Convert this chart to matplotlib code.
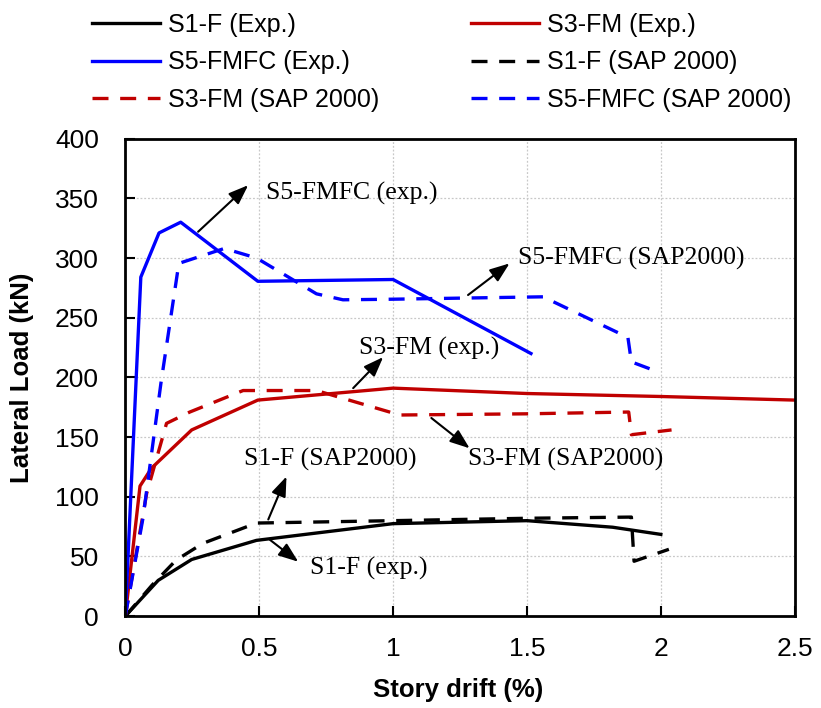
import matplotlib
matplotlib.use("Agg")
import matplotlib.pyplot as plt

sans = ['Liberation Sans', 'DejaVu Sans']
serif = ['Liberation Serif', 'DejaVu Serif']
plt.rcParams['font.family'] = sans

# ---- data ----
s1_exp_x = [0, 0.123, 0.248, 0.49, 1.0, 1.5, 1.82, 2.0]
s1_exp_y = [0, 30, 47.5, 63.5, 77.5, 80, 74.5, 68.5]
s3_exp_x = [0, 0.055, 0.098, 0.248, 0.495, 1.0, 1.5, 2.0, 2.5]
s3_exp_y = [0, 109, 124, 156, 181, 191, 186.5, 184, 181]
s5_exp_x = [0, 0.058, 0.126, 0.207, 0.495, 1.0, 1.515]
s5_exp_y = [0, 284, 321, 330, 280.5, 282, 220]
s1_sap_x = [0, 0.1, 0.19, 0.29, 0.49, 1.0, 1.5, 1.89, 1.9, 2.03]
s1_sap_y = [0, 26, 47, 61, 78, 80, 82, 83, 46, 56]
s3_sap_x = [0, 0.08, 0.154, 0.241, 0.44, 0.714, 1.025, 1.5, 1.88, 1.89, 2.04]
s3_sap_y = [0, 103, 161.5, 171, 189, 189, 168.5, 169.5, 171, 152, 156]
s5_sap_x = [0, 0.066, 0.133, 0.2, 0.37, 0.49, 0.714, 0.813, 1.0, 1.56, 1.877, 1.89, 1.985]
s5_sap_y = [0, 82, 195, 295.5, 308, 300, 270, 265, 265.5, 267.5, 233.5, 213, 205]

labels = ['S1-F (Exp.)', 'S3-FM (Exp.)', 'S5-FMFC (Exp.)',
          'S1-F (SAP 2000)', 'S3-FM (SAP 2000)', 'S5-FMFC (SAP 2000)']

x_ticks = [0, 0.5, 1, 1.5, 2, 2.5]
x_ticklabels = ['0', '0.5', '1', '1.5', '2', '2.5']
y_ticks = [0, 50, 100, 150, 200, 250, 300, 350, 400]

# annotation: text, text pos, arrow start, arrow tip
annots = [
    ('S5-FMFC (exp.)', (0.524, 354), (0.272, 322), (0.459, 361)),
    ('S5-FMFC (SAP2000)', (1.467, 300), (1.28, 269), (1.435, 295.5)),
    ('S3-FM (exp.)', (0.873, 224), (0.851, 191), (0.963, 217)),
    ('S3-FM (SAP2000)', (1.28, 131), (1.143, 166), (1.286, 140.6)),
    ('S1-F (SAP2000)', (0.443, 131), (0.534, 81), (0.602, 117)),
    ('S1-F (exp.)', (0.689, 40), (0.54, 64), (0.646, 45.6)),
]

BLACK = '#000000'
RED = '#C00000'
BLUE = '#0000FF'

fig = plt.figure(figsize=(8.21, 7.08), dpi=100)
ax = fig.add_axes([0.1526, 0.1297, 0.8154, 0.6745])

lw = 2.4
dash = (0, (4.8, 3.5))
h = []
h += ax.plot(s1_exp_x, s1_exp_y, color=BLACK, lw=lw)
h += ax.plot(s3_exp_x, s3_exp_y, color=RED, lw=lw)
h += ax.plot(s5_exp_x, s5_exp_y, color=BLUE, lw=lw)
h += ax.plot(s1_sap_x, s1_sap_y, color=BLACK, lw=lw, linestyle=dash)
h += ax.plot(s3_sap_x, s3_sap_y, color=RED, lw=lw, linestyle=dash)
h += ax.plot(s5_sap_x, s5_sap_y, color=BLUE, lw=lw, linestyle=dash)

ax.set_xlim(0, 2.5)
ax.set_ylim(0, 400)
ax.set_xticks(x_ticks)
ax.set_xticklabels(x_ticklabels)
ax.set_yticks(y_ticks)
ax.tick_params(direction='in', length=7, width=1.5)
ax.tick_params(axis='x', labelsize=19, pad=15)
ax.tick_params(axis='y', labelsize=19, pad=19)
ax.grid(True, color='#c8c8c8', linestyle=(0, (1.5, 1.5)), linewidth=0.9)
for s in ax.spines.values():
    s.set_linewidth(2)
ax.set_axisbelow(True)

ax.set_xlabel('Story drift (%)', fontsize=18.5, fontweight='bold')
ax.set_ylabel('Lateral Load (kN)', fontsize=18.5, fontweight='bold')
ax.xaxis.set_label_coords(0.497, -0.13)
ax.yaxis.set_label_coords(-0.136, 0.5)

for txt, tp, st, tip in annots:
    ax.annotate('', xy=tip, xytext=st,
                arrowprops=dict(arrowstyle='-|>,head_length=1.2,head_width=0.45', color='black', lw=1.5,
                                shrinkA=0, shrinkB=0))
    ax.text(tp[0], tp[1], txt, family=serif, fontsize=18.5, ha='left', va='center')

W, H = 821, 708
legkw = dict(loc='upper left', frameon=False, fontsize=18, handlelength=2.72,
             handletextpad=0.32, labelspacing=0.54, borderpad=0, borderaxespad=0)
fig.legend([h[0], h[2], h[4]], [labels[0], labels[2], labels[4]],
           bbox_to_anchor=(92 / W, 1 - 13 / H), **legkw)
fig.legend([h[1], h[3], h[5]], [labels[1], labels[3], labels[5]],
           bbox_to_anchor=(471 / W, 1 - 13 / H), **legkw)

fig.savefig('out.png', dpi=100)
